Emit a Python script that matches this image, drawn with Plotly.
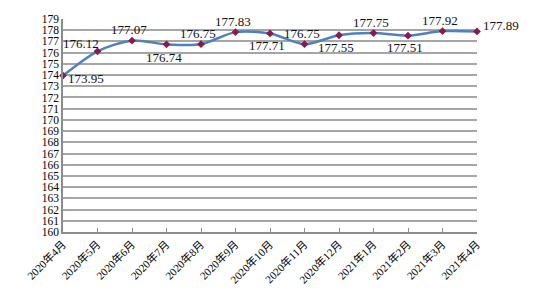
import plotly.graph_objects as go

months = ["2020年4月", "2020年5月", "2020年6月", "2020年7月", "2020年8月", "2020年9月",
          "2020年10月", "2020年11月", "2020年12月", "2021年1月", "2021年2月", "2021年3月", "2021年4月"]
values = [173.95, 176.12, 177.07, 176.74, 176.75, 177.83, 177.71, 176.75, 177.55, 177.75, 177.51, 177.92, 177.89]
y_ticks = list(range(160, 180))

# label placement style: (xanchor, xshift, yshift) in pixels
label_style = [("left", 3, -3), ("right", 3, 8), ("center", -3, 11), ("center", -3, -13),
               ("center", -3, 11), ("center", -3, 11), ("center", -3, -12), ("center", -3, 11),
               ("center", -3, -12), ("center", -3, 11), ("center", -3, -12), ("center", -3, 11),
               ("left", 4, 6)]

font_fam = "Liberation Serif, DejaVu Serif, Noto Sans CJK SC, serif"
xs = list(range(len(months)))

fig = go.Figure()
fig.add_trace(go.Scatter(
    x=xs, y=values,
    mode="lines+markers",
    line=dict(color="#4f81bd", width=2.5, shape="spline", smoothing=0.8),
    marker=dict(symbol="diamond", size=6, color="#8b1a4a"),
    cliponaxis=False,
    showlegend=False,
))

for x, v, (xa, dx, dy) in zip(xs, values, label_style):
    fig.add_annotation(
        x=x, y=v, xref="x", yref="y", text=f"{v:.2f}", showarrow=False,
        xanchor=xa, yanchor="middle", xshift=dx, yshift=dy,
        font=dict(family=font_fam, size=13, color="#111111"),
    )

fig.update_layout(
    width=533, height=298,
    margin=dict(l=63, r=56, t=19, b=64),
    paper_bgcolor="white", plot_bgcolor="white",
    font=dict(family=font_fam, color="#111111"),
)
fig.update_xaxes(
    tickmode="array", tickvals=xs, ticktext=months,
    range=[0, len(months) - 1], tickangle=-45,
    tickfont=dict(family=font_fam, size=11, color="#000000"),
    showgrid=False, showline=True, linecolor="#8c8c8c", linewidth=1.5,
    ticks="inside", ticklen=4, tickcolor="#8c8c8c", zeroline=False,
)
fig.update_yaxes(
    tickmode="array", tickvals=y_ticks, ticktext=[str(t) for t in y_ticks],
    range=[160, 179],
    tickfont=dict(family=font_fam, size=11.5, color="#000000"),
    showgrid=True, gridcolor="#a6a6a6", gridwidth=1.5,
    showline=True, linecolor="#8c8c8c", linewidth=1.5, ticks="", zeroline=False,
)

fig.write_html("out.html")
